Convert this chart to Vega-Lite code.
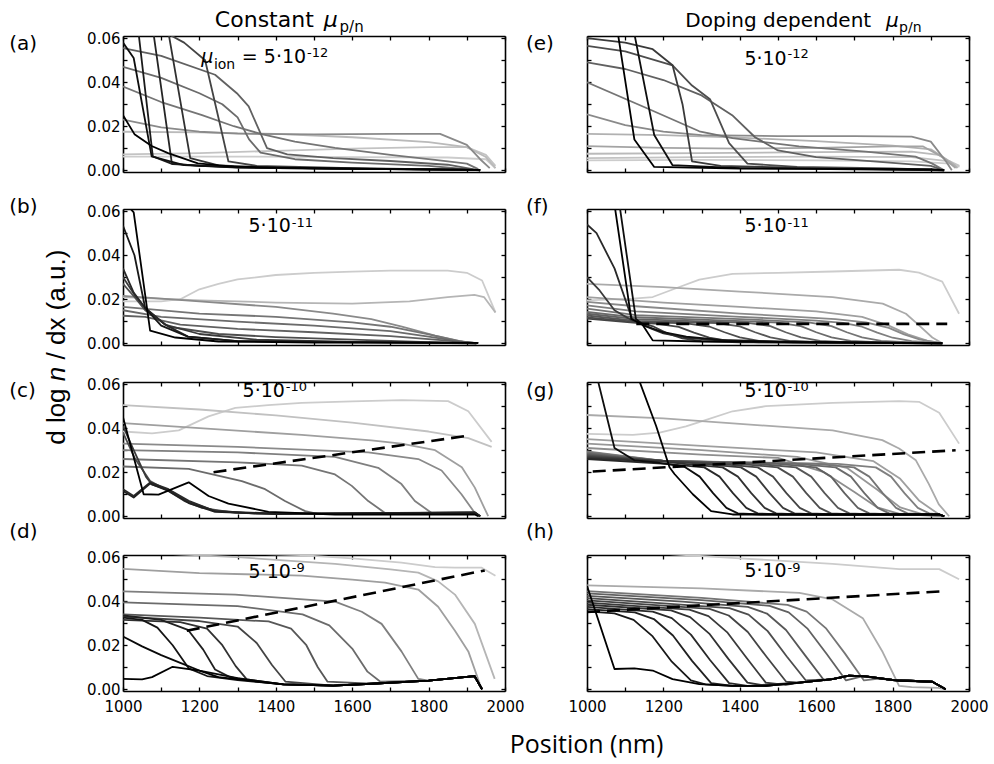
{
"$schema":"https://vega.github.io/schema/vega-lite/v6.json",
"padding":{"left":9,"top":9,"right":5,"bottom":5},
"background":"white",
"config":{"axis":{"grid":false,"tickSize":-4,"domainColor":"#000","domainWidth":1.6,"tickColor":"#000","tickWidth":1.3,"labelFont":"DejaVu Sans","labelFontSize":15,"labelColor":"#000","labelPadding":7,"labelOverlap":false,"labelFlush":false,"labelBound":false},"view":{"stroke":null}},
"columns":2,
"spacing":{"row":37,"column":82},
"bounds":"flush",
"concat":[
{"width":382,"height":136,"resolve":{"axis":{"x":"independent","y":"independent"}},
"layer":[
{"data":{"values":[
{"t":10,"x":1000,"y":0.0062},{"t":10,"x":1300,"y":0.0062},{"t":10,"x":1600,"y":0.006},{"t":10,"x":1850,"y":0.0058},{"t":10,"x":1950,"y":0.005},{"t":10,"x":1975,"y":0.001},
{"t":9.6,"x":1000,"y":0.0072},{"t":9.6,"x":1200,"y":0.0078},{"t":9.6,"x":1400,"y":0.0088},{"t":9.6,"x":1600,"y":0.0098},{"t":9.6,"x":1800,"y":0.0105},{"t":9.6,"x":1900,"y":0.0105},{"t":9.6,"x":1950,"y":0.007},{"t":9.6,"x":1975,"y":0.002},
{"t":9.2,"x":1000,"y":0.0175},{"t":9.2,"x":1200,"y":0.0172},{"t":9.2,"x":1400,"y":0.0165},{"t":9.2,"x":1600,"y":0.015},{"t":9.2,"x":1800,"y":0.0128},{"t":9.2,"x":1900,"y":0.0105},{"t":9.2,"x":1950,"y":0.006},{"t":9.2,"x":1975,"y":0.001},
{"t":7,"x":1000,"y":0.023},{"t":7,"x":1100,"y":0.0195},{"t":7,"x":1200,"y":0.0175},{"t":7,"x":1300,"y":0.0166},{"t":7,"x":1500,"y":0.0163},{"t":7,"x":1700,"y":0.0165},{"t":7,"x":1830,"y":0.0165},{"t":7,"x":1900,"y":0.0115},{"t":7,"x":1935,"y":0.005},{"t":7,"x":1960,"y":0.001},
{"t":6,"x":1000,"y":0.038},{"t":6,"x":1100,"y":0.031},{"t":6,"x":1207,"y":0.025},{"t":6,"x":1290,"y":0.02},{"t":6,"x":1363,"y":0.0164},{"t":6,"x":1450,"y":0.013},{"t":6,"x":1555,"y":0.0102},{"t":6,"x":1700,"y":0.007},{"t":6,"x":1817,"y":0.0047},{"t":6,"x":1900,"y":0.003},{"t":6,"x":1930,"y":0.0005},
{"t":5.5,"x":1000,"y":0.047},{"t":5.5,"x":1100,"y":0.042},{"t":5.5,"x":1200,"y":0.035},{"t":5.5,"x":1260,"y":0.03},{"t":5.5,"x":1300,"y":0.024},{"t":5.5,"x":1330,"y":0.014},{"t":5.5,"x":1360,"y":0.008},{"t":5.5,"x":1450,"y":0.005},{"t":5.5,"x":1600,"y":0.0035},{"t":5.5,"x":1800,"y":0.002},{"t":5.5,"x":1930,"y":0},
{"t":5,"x":1000,"y":0.0555},{"t":5,"x":1100,"y":0.052},{"t":5,"x":1241,"y":0.0434},{"t":5,"x":1298,"y":0.035},{"t":5,"x":1329,"y":0.029},{"t":5,"x":1377,"y":0.01},{"t":5,"x":1430,"y":0.0072},{"t":5,"x":1550,"y":0.0055},{"t":5,"x":1700,"y":0.0042},{"t":5,"x":1850,"y":0.0025},{"t":5,"x":1930,"y":0},
{"t":3.5,"x":1000,"y":0.07},{"t":3.5,"x":1112,"y":0.0625},{"t":3.5,"x":1160,"y":0.058},{"t":3.5,"x":1215,"y":0.05},{"t":3.5,"x":1255,"y":0.02},{"t":3.5,"x":1276,"y":0.004},{"t":3.5,"x":1350,"y":0.002},{"t":3.5,"x":1600,"y":0.001},{"t":3.5,"x":1925,"y":0.0002},{"t":3.5,"x":1935,"y":0},
{"t":2.5,"x":1000,"y":0.07},{"t":2.5,"x":1120,"y":0.0615},{"t":2.5,"x":1176,"y":0.0055},{"t":2.5,"x":1250,"y":0.0022},{"t":2.5,"x":1400,"y":0.0012},{"t":2.5,"x":1925,"y":0.0002},{"t":2.5,"x":1935,"y":0},
{"t":1.8,"x":1000,"y":0.07},{"t":1.8,"x":1080,"y":0.062},{"t":1.8,"x":1128,"y":0.003},{"t":1.8,"x":1200,"y":0.002},{"t":1.8,"x":1400,"y":0.001},{"t":1.8,"x":1925,"y":0.0002},{"t":1.8,"x":1935,"y":0},
{"t":1.2,"x":1000,"y":0.07},{"t":1.2,"x":1041,"y":0.062},{"t":1.2,"x":1078,"y":0.0063},{"t":1.2,"x":1130,"y":0.0028},{"t":1.2,"x":1300,"y":0.0013},{"t":1.2,"x":1925,"y":0.0002},{"t":1.2,"x":1935,"y":0},
{"t":0.5,"x":1000,"y":0.058},{"t":0.5,"x":1028,"y":0.051},{"t":0.5,"x":1075,"y":0.0063},{"t":0.5,"x":1160,"y":0.0023},{"t":0.5,"x":1300,"y":0.0012},{"t":0.5,"x":1600,"y":0.0006},{"t":0.5,"x":1925,"y":0.0002},{"t":0.5,"x":1935,"y":0},
{"t":0,"x":1000,"y":0.025},{"t":0,"x":1030,"y":0.0164},{"t":0,"x":1075,"y":0.011},{"t":0,"x":1118,"y":0.0078},{"t":0,"x":1196,"y":0.0031},{"t":0,"x":1290,"y":0.0016},{"t":0,"x":1500,"y":0.0009},{"t":0,"x":1700,"y":0.0005},{"t":0,"x":1925,"y":0.0002},{"t":0,"x":1935,"y":0}
]},
"mark":{"type":"line","clip":true,"strokeWidth":1.8,"strokeJoin":"round"},
"encoding":{"x":{"field":"x","type":"quantitative","scale":{"domain":[1000,2000],"nice":false,"zero":false},"axis":{"orient":"bottom","values":[1000,1100,1200,1300,1400,1500,1600,1700,1800,1900,2000],"labels":false,"title":null}},
"y":{"field":"y","type":"quantitative","scale":{"domain":[-0.0008,0.061],"nice":false,"zero":false},"axis":{"orient":"left","values":[0,0.01,0.02,0.03,0.04,0.05,0.06],"format":".2f","labelExpr":"round(datum.value*100) % 2 == 0 ? datum.label : ''","title":null}},
"color":{"field":"t","type":"quantitative","scale":{"domain":[0,10],"range":["#000000","#cccccc"]},"legend":null},
"detail":{"field":"t","type":"nominal"}}},
{"data":{"values":[{}]},"mark":{"type":"point","opacity":0},"encoding":{"x":{"datum":1500,"type":"quantitative","scale":{"domain":[1000,2000],"nice":false,"zero":false},"axis":{"orient":"top","values":[1000,1100,1200,1300,1400,1500,1600,1700,1800,1900,2000],"labels":false,"title":null}},"y":{"datum":0.03,"type":"quantitative","scale":{"domain":[-0.0008,0.061],"nice":false,"zero":false},"axis":{"orient":"right","values":[0,0.01,0.02,0.03,0.04,0.05,0.06],"labels":false,"title":null}}}},
{"data":{"values":[{}]},"mark":{"type":"text","align":"left","baseline":"middle","font":"DejaVu Sans","fontSize":20,"color":"#000"},"encoding":{"x":{"datum":702,"type":"quantitative","scale":{"domain":[1000,2000],"nice":false,"zero":false},"axis":null},"y":{"datum":0.0575,"type":"quantitative","scale":{"domain":[-0.0008,0.061],"nice":false,"zero":false},"axis":null},"text":{"value":"(a)"}}},
{"data":{"values":[{}]},"mark":{"type":"text","align":"left","baseline":"alphabetic","font":"DejaVu Sans","fontSize":22,"color":"#000"},"encoding":{"x":{"datum":1240.5,"type":"quantitative","scale":{"domain":[1000,2000],"nice":false,"zero":false},"axis":null},"y":{"datum":0.06495,"type":"quantitative","scale":{"domain":[-0.0008,0.061],"nice":false,"zero":false},"axis":null},"text":{"value":"Constant"}}},
{"data":{"values":[{}]},"mark":{"type":"text","align":"left","baseline":"alphabetic","font":"DejaVu Sans","fontStyle":"italic","fontSize":22,"color":"#000"},"encoding":{"x":{"datum":1525.5,"type":"quantitative","scale":{"domain":[1000,2000],"nice":false,"zero":false},"axis":null},"y":{"datum":0.06495,"type":"quantitative","scale":{"domain":[-0.0008,0.061],"nice":false,"zero":false},"axis":null},"text":{"value":"μ"}}},
{"data":{"values":[{}]},"mark":{"type":"text","align":"left","baseline":"alphabetic","font":"DejaVu Sans","fontSize":15,"color":"#000"},"encoding":{"x":{"datum":1567,"type":"quantitative","scale":{"domain":[1000,2000],"nice":false,"zero":false},"axis":null},"y":{"datum":0.0628,"type":"quantitative","scale":{"domain":[-0.0008,0.061],"nice":false,"zero":false},"axis":null},"text":{"value":"p/n"}}},
{"data":{"values":[{}]},"mark":{"type":"text","align":"left","baseline":"alphabetic","font":"DejaVu Sans","fontStyle":"italic","fontSize":19,"color":"#000"},"encoding":{"x":{"datum":1204.7,"type":"quantitative","scale":{"domain":[1000,2000],"nice":false,"zero":false},"axis":null},"y":{"datum":0.04891,"type":"quantitative","scale":{"domain":[-0.0008,0.061],"nice":false,"zero":false},"axis":null},"text":{"value":"μ"}}},
{"data":{"values":[{}]},"mark":{"type":"text","align":"left","baseline":"alphabetic","font":"DejaVu Sans","fontSize":14,"color":"#000"},"encoding":{"x":{"datum":1237.9,"type":"quantitative","scale":{"domain":[1000,2000],"nice":false,"zero":false},"axis":null},"y":{"datum":0.04587,"type":"quantitative","scale":{"domain":[-0.0008,0.061],"nice":false,"zero":false},"axis":null},"text":{"value":"ion"}}},
{"data":{"values":[{}]},"mark":{"type":"text","align":"left","baseline":"alphabetic","font":"DejaVu Sans","fontSize":19,"color":"#000"},"encoding":{"x":{"datum":1311.1,"type":"quantitative","scale":{"domain":[1000,2000],"nice":false,"zero":false},"axis":null},"y":{"datum":0.04891,"type":"quantitative","scale":{"domain":[-0.0008,0.061],"nice":false,"zero":false},"axis":null},"text":{"value":"= 5·10"}}},
{"data":{"values":[{}]},"mark":{"type":"text","align":"left","baseline":"alphabetic","font":"DejaVu Sans","fontSize":13,"color":"#000"},"encoding":{"x":{"datum":1482,"type":"quantitative","scale":{"domain":[1000,2000],"nice":false,"zero":false},"axis":null},"y":{"datum":0.05132,"type":"quantitative","scale":{"domain":[-0.0008,0.061],"nice":false,"zero":false},"axis":null},"text":{"value":"-12"}}}
]},
{"width":382,"height":136,"resolve":{"axis":{"x":"independent","y":"independent"}},
"layer":[
{"data":{"values":[
{"t":10,"x":1000,"y":0.0045},{"t":10,"x":1300,"y":0.0047},{"t":10,"x":1600,"y":0.0045},{"t":10,"x":1850,"y":0.004},{"t":10,"x":1950,"y":0.003},{"t":10,"x":1975,"y":0.0015},
{"t":9.6,"x":1000,"y":0.0055},{"t":9.6,"x":1300,"y":0.006},{"t":9.6,"x":1600,"y":0.0062},{"t":9.6,"x":1850,"y":0.006},{"t":9.6,"x":1950,"y":0.004},{"t":9.6,"x":1975,"y":0.002},
{"t":9.2,"x":1000,"y":0.0075},{"t":9.2,"x":1300,"y":0.0078},{"t":9.2,"x":1600,"y":0.0082},{"t":9.2,"x":1850,"y":0.0085},{"t":9.2,"x":1920,"y":0.007},{"t":9.2,"x":1965,"y":0.002},
{"t":8.8,"x":1000,"y":0.0165},{"t":8.8,"x":1200,"y":0.016},{"t":8.8,"x":1400,"y":0.0148},{"t":8.8,"x":1600,"y":0.0132},{"t":8.8,"x":1800,"y":0.0112},{"t":8.8,"x":1900,"y":0.0095},{"t":8.8,"x":1950,"y":0.004},{"t":8.8,"x":1970,"y":0.001},
{"t":8.2,"x":1000,"y":0.011},{"t":8.2,"x":1200,"y":0.0102},{"t":8.2,"x":1400,"y":0.0098},{"t":8.2,"x":1600,"y":0.0102},{"t":8.2,"x":1800,"y":0.0108},{"t":8.2,"x":1880,"y":0.0108},{"t":8.2,"x":1930,"y":0.006},{"t":8.2,"x":1965,"y":0.001},
{"t":7,"x":1000,"y":0.0254},{"t":7,"x":1100,"y":0.0205},{"t":7,"x":1200,"y":0.0175},{"t":7,"x":1300,"y":0.016},{"t":7,"x":1500,"y":0.0155},{"t":7,"x":1700,"y":0.0155},{"t":7,"x":1850,"y":0.0153},{"t":7,"x":1900,"y":0.013},{"t":7,"x":1940,"y":0.004},{"t":7,"x":1955,"y":0},
{"t":6,"x":1000,"y":0.04},{"t":6,"x":1163,"y":0.0277},{"t":6,"x":1294,"y":0.0177},{"t":6,"x":1381,"y":0.0146},{"t":6,"x":1555,"y":0.0108},{"t":6,"x":1730,"y":0.0085},{"t":6,"x":1860,"y":0.0062},{"t":6,"x":1904,"y":0.003},{"t":6,"x":1935,"y":0},
{"t":5,"x":1000,"y":0.049},{"t":5,"x":1100,"y":0.046},{"t":5,"x":1200,"y":0.041},{"t":5,"x":1300,"y":0.034},{"t":5,"x":1380,"y":0.025},{"t":5,"x":1440,"y":0.015},{"t":5,"x":1500,"y":0.009},{"t":5,"x":1600,"y":0.006},{"t":5,"x":1750,"y":0.004},{"t":5,"x":1900,"y":0.002},{"t":5,"x":1935,"y":0},
{"t":4,"x":1000,"y":0.0565},{"t":4,"x":1100,"y":0.054},{"t":4,"x":1224,"y":0.0477},{"t":4,"x":1275,"y":0.0385},{"t":4,"x":1322,"y":0.0323},{"t":4,"x":1372,"y":0.0123},{"t":4,"x":1420,"y":0.003},{"t":4,"x":1550,"y":0.0015},{"t":4,"x":1800,"y":0.0008},{"t":4,"x":1935,"y":0},
{"t":3,"x":1000,"y":0.06},{"t":3,"x":1100,"y":0.058},{"t":3,"x":1172,"y":0.055},{"t":3,"x":1224,"y":0.0477},{"t":3,"x":1250,"y":0.03},{"t":3,"x":1275,"y":0.004},{"t":3,"x":1350,"y":0.002},{"t":3,"x":1600,"y":0.001},{"t":3,"x":1935,"y":0},
{"t":0.5,"x":1000,"y":0.07},{"t":0.5,"x":1124,"y":0.062},{"t":0.5,"x":1176,"y":0.016},{"t":0.5,"x":1224,"y":0.0023},{"t":0.5,"x":1400,"y":0.001},{"t":0.5,"x":1935,"y":0},
{"t":0,"x":1000,"y":0.07},{"t":0,"x":1081,"y":0.062},{"t":0,"x":1124,"y":0.014},{"t":0,"x":1176,"y":0.0015},{"t":0,"x":1400,"y":0.0008},{"t":0,"x":1900,"y":0.0005},{"t":0,"x":1935,"y":0}
]},
"mark":{"type":"line","clip":true,"strokeWidth":1.8,"strokeJoin":"round"},
"encoding":{"x":{"field":"x","type":"quantitative","scale":{"domain":[1000,2000],"nice":false,"zero":false},"axis":{"orient":"bottom","values":[1000,1100,1200,1300,1400,1500,1600,1700,1800,1900,2000],"labels":false,"title":null}},
"y":{"field":"y","type":"quantitative","scale":{"domain":[-0.0008,0.061],"nice":false,"zero":false},"axis":{"orient":"left","values":[0,0.01,0.02,0.03,0.04,0.05,0.06],"labels":false,"title":null}},
"color":{"field":"t","type":"quantitative","scale":{"domain":[0,10],"range":["#000000","#cccccc"]},"legend":null},
"detail":{"field":"t","type":"nominal"}}},
{"data":{"values":[{}]},"mark":{"type":"point","opacity":0},"encoding":{"x":{"datum":1500,"type":"quantitative","scale":{"domain":[1000,2000],"nice":false,"zero":false},"axis":{"orient":"top","values":[1000,1100,1200,1300,1400,1500,1600,1700,1800,1900,2000],"labels":false,"title":null}},"y":{"datum":0.03,"type":"quantitative","scale":{"domain":[-0.0008,0.061],"nice":false,"zero":false},"axis":{"orient":"right","values":[0,0.01,0.02,0.03,0.04,0.05,0.06],"labels":false,"title":null}}}},
{"data":{"values":[{}]},"mark":{"type":"text","align":"left","baseline":"middle","font":"DejaVu Sans","fontSize":20,"color":"#000"},"encoding":{"x":{"datum":840,"type":"quantitative","scale":{"domain":[1000,2000],"nice":false,"zero":false},"axis":null},"y":{"datum":0.0575,"type":"quantitative","scale":{"domain":[-0.0008,0.061],"nice":false,"zero":false},"axis":null},"text":{"value":"(e)"}}},
{"data":{"values":[{}]},"mark":{"type":"text","align":"left","baseline":"alphabetic","font":"DejaVu Sans","fontSize":20,"color":"#000"},"encoding":{"x":{"datum":1257.5,"type":"quantitative","scale":{"domain":[1000,2000],"nice":false,"zero":false},"axis":null},"y":{"datum":0.06495,"type":"quantitative","scale":{"domain":[-0.0008,0.061],"nice":false,"zero":false},"axis":null},"text":{"value":"Doping dependent"}}},
{"data":{"values":[{}]},"mark":{"type":"text","align":"left","baseline":"alphabetic","font":"DejaVu Sans","fontStyle":"italic","fontSize":20,"color":"#000"},"encoding":{"x":{"datum":1783,"type":"quantitative","scale":{"domain":[1000,2000],"nice":false,"zero":false},"axis":null},"y":{"datum":0.06495,"type":"quantitative","scale":{"domain":[-0.0008,0.061],"nice":false,"zero":false},"axis":null},"text":{"value":"μ"}}},
{"data":{"values":[{}]},"mark":{"type":"text","align":"left","baseline":"alphabetic","font":"DejaVu Sans","fontSize":14,"color":"#000"},"encoding":{"x":{"datum":1817,"type":"quantitative","scale":{"domain":[1000,2000],"nice":false,"zero":false},"axis":null},"y":{"datum":0.0628,"type":"quantitative","scale":{"domain":[-0.0008,0.061],"nice":false,"zero":false},"axis":null},"text":{"value":"p/n"}}},
{"data":{"values":[{}]},"mark":{"type":"text","align":"left","baseline":"alphabetic","font":"DejaVu Sans","fontSize":19,"color":"#000"},"encoding":{"x":{"datum":1412,"type":"quantitative","scale":{"domain":[1000,2000],"nice":false,"zero":false},"axis":null},"y":{"datum":0.04769,"type":"quantitative","scale":{"domain":[-0.0008,0.061],"nice":false,"zero":false},"axis":null},"text":{"value":"5·10"}}},
{"data":{"values":[{}]},"mark":{"type":"text","align":"left","baseline":"alphabetic","font":"DejaVu Sans","fontSize":13,"color":"#000"},"encoding":{"x":{"datum":1525,"type":"quantitative","scale":{"domain":[1000,2000],"nice":false,"zero":false},"axis":null},"y":{"datum":0.05118,"type":"quantitative","scale":{"domain":[-0.0008,0.061],"nice":false,"zero":false},"axis":null},"text":{"value":"-12"}}}
]},
{"width":382,"height":136,"resolve":{"axis":{"x":"independent","y":"independent"}},
"layer":[
{"data":{"values":[
{"t":10,"x":1000,"y":0.019},{"t":10,"x":1100,"y":0.019},{"t":10,"x":1150,"y":0.02},{"t":10,"x":1200,"y":0.0245},{"t":10,"x":1250,"y":0.027},{"t":10,"x":1300,"y":0.029},{"t":10,"x":1400,"y":0.031},{"t":10,"x":1500,"y":0.032},{"t":10,"x":1600,"y":0.0325},{"t":10,"x":1700,"y":0.033},{"t":10,"x":1850,"y":0.033},{"t":10,"x":1900,"y":0.032},{"t":10,"x":1940,"y":0.0285},{"t":10,"x":1975,"y":0.014},
{"t":9,"x":1000,"y":0.021},{"t":9,"x":1200,"y":0.0195},{"t":9,"x":1400,"y":0.0185},{"t":9,"x":1600,"y":0.018},{"t":9,"x":1750,"y":0.019},{"t":9,"x":1850,"y":0.021},{"t":9,"x":1920,"y":0.022},{"t":9,"x":1945,"y":0.021},{"t":9,"x":1975,"y":0.014},
{"t":7,"x":1000,"y":0.0215},{"t":7,"x":1200,"y":0.019},{"t":7,"x":1400,"y":0.0165},{"t":7,"x":1550,"y":0.0135},{"t":7,"x":1650,"y":0.011},{"t":7,"x":1730,"y":0.0075},{"t":7,"x":1817,"y":0.0035},{"t":7,"x":1900,"y":0.0003},{"t":7,"x":1925,"y":0},
{"t":6,"x":1000,"y":0.0165},{"t":6,"x":1200,"y":0.0135},{"t":6,"x":1400,"y":0.012},{"t":6,"x":1600,"y":0.0095},{"t":6,"x":1700,"y":0.0075},{"t":6,"x":1800,"y":0.004},{"t":6,"x":1880,"y":0.001},{"t":6,"x":1925,"y":0},
{"t":5.5,"x":1000,"y":0.015},{"t":5.5,"x":1100,"y":0.012},{"t":5.5,"x":1300,"y":0.0098},{"t":5.5,"x":1500,"y":0.008},{"t":5.5,"x":1700,"y":0.0055},{"t":5.5,"x":1800,"y":0.003},{"t":5.5,"x":1880,"y":0.0008},{"t":5.5,"x":1925,"y":0},
{"t":5,"x":1000,"y":0.0125},{"t":5,"x":1058,"y":0.012},{"t":5,"x":1150,"y":0.0085},{"t":5,"x":1300,"y":0.0065},{"t":5,"x":1500,"y":0.005},{"t":5,"x":1700,"y":0.0032},{"t":5,"x":1850,"y":0.0012},{"t":5,"x":1925,"y":0},
{"t":4,"x":1000,"y":0.027},{"t":4,"x":1030,"y":0.021},{"t":4,"x":1058,"y":0.015},{"t":4,"x":1120,"y":0.0075},{"t":4,"x":1250,"y":0.0042},{"t":4,"x":1400,"y":0.0028},{"t":4,"x":1600,"y":0.0016},{"t":4,"x":1800,"y":0.0005},{"t":4,"x":1925,"y":0},
{"t":3,"x":1000,"y":0.03},{"t":3,"x":1030,"y":0.022},{"t":3,"x":1058,"y":0.016},{"t":3,"x":1110,"y":0.0085},{"t":3,"x":1200,"y":0.0042},{"t":3,"x":1350,"y":0.0016},{"t":3,"x":1600,"y":0.0006},{"t":3,"x":1925,"y":0},
{"t":2,"x":1000,"y":0.034},{"t":2,"x":1028,"y":0.023},{"t":2,"x":1058,"y":0.016},{"t":2,"x":1110,"y":0.0085},{"t":2,"x":1170,"y":0.003},{"t":2,"x":1300,"y":0.0009},{"t":2,"x":1925,"y":0},
{"t":1,"x":1000,"y":0.0534},{"t":1,"x":1030,"y":0.04},{"t":1,"x":1058,"y":0.016},{"t":1,"x":1100,"y":0.008},{"t":1,"x":1170,"y":0.003},{"t":1,"x":1300,"y":0.001},{"t":1,"x":1925,"y":0.0002},{"t":1,"x":1930,"y":0},
{"t":0,"x":1000,"y":0.07},{"t":0,"x":1015,"y":0.062},{"t":0,"x":1028,"y":0.0595},{"t":0,"x":1071,"y":0.0057},{"t":0,"x":1137,"y":0.0026},{"t":0,"x":1250,"y":0.0008},{"t":0,"x":1500,"y":0.0003},{"t":0,"x":1925,"y":0.0002},{"t":0,"x":1930,"y":0}
]},
"mark":{"type":"line","clip":true,"strokeWidth":1.8,"strokeJoin":"round"},
"encoding":{"x":{"field":"x","type":"quantitative","scale":{"domain":[1000,2000],"nice":false,"zero":false},"axis":{"orient":"bottom","values":[1000,1100,1200,1300,1400,1500,1600,1700,1800,1900,2000],"labels":false,"title":null}},
"y":{"field":"y","type":"quantitative","scale":{"domain":[-0.0008,0.061],"nice":false,"zero":false},"axis":{"orient":"left","values":[0,0.01,0.02,0.03,0.04,0.05,0.06],"format":".2f","labelExpr":"round(datum.value*100) % 2 == 0 ? datum.label : ''","title":null}},
"color":{"field":"t","type":"quantitative","scale":{"domain":[0,10],"range":["#000000","#cccccc"]},"legend":null},
"detail":{"field":"t","type":"nominal"}}},
{"data":{"values":[{}]},"mark":{"type":"point","opacity":0},"encoding":{"x":{"datum":1500,"type":"quantitative","scale":{"domain":[1000,2000],"nice":false,"zero":false},"axis":{"orient":"top","values":[1000,1100,1200,1300,1400,1500,1600,1700,1800,1900,2000],"labels":false,"title":null}},"y":{"datum":0.03,"type":"quantitative","scale":{"domain":[-0.0008,0.061],"nice":false,"zero":false},"axis":{"orient":"right","values":[0,0.01,0.02,0.03,0.04,0.05,0.06],"labels":false,"title":null}}}},
{"data":{"values":[{}]},"mark":{"type":"text","align":"left","baseline":"middle","font":"DejaVu Sans","fontSize":20,"color":"#000"},"encoding":{"x":{"datum":702,"type":"quantitative","scale":{"domain":[1000,2000],"nice":false,"zero":false},"axis":null},"y":{"datum":0.062,"type":"quantitative","scale":{"domain":[-0.0008,0.061],"nice":false,"zero":false},"axis":null},"text":{"value":"(b)"}}},
{"data":{"values":[{}]},"mark":{"type":"text","align":"left","baseline":"alphabetic","font":"DejaVu Sans","fontSize":19,"color":"#000"},"encoding":{"x":{"datum":1328.6,"type":"quantitative","scale":{"domain":[1000,2000],"nice":false,"zero":false},"axis":null},"y":{"datum":0.05037,"type":"quantitative","scale":{"domain":[-0.0008,0.061],"nice":false,"zero":false},"axis":null},"text":{"value":"5·10"}}},
{"data":{"values":[{}]},"mark":{"type":"text","align":"left","baseline":"alphabetic","font":"DejaVu Sans","fontSize":13,"color":"#000"},"encoding":{"x":{"datum":1441.8,"type":"quantitative","scale":{"domain":[1000,2000],"nice":false,"zero":false},"axis":null},"y":{"datum":0.05264,"type":"quantitative","scale":{"domain":[-0.0008,0.061],"nice":false,"zero":false},"axis":null},"text":{"value":"-11"}}}
]},
{"width":382,"height":136,"resolve":{"axis":{"x":"independent","y":"independent"}},
"layer":[
{"data":{"values":[
{"t":10,"x":1000,"y":0.0195},{"t":10,"x":1120,"y":0.0203},{"t":10,"x":1172,"y":0.021},{"t":10,"x":1233,"y":0.025},{"t":10,"x":1294,"y":0.0289},{"t":10,"x":1381,"y":0.0315},{"t":10,"x":1500,"y":0.032},{"t":10,"x":1643,"y":0.0326},{"t":10,"x":1817,"y":0.0334},{"t":10,"x":1869,"y":0.0321},{"t":10,"x":1930,"y":0.028},{"t":10,"x":1974,"y":0.0134},
{"t":8.5,"x":1000,"y":0.027},{"t":8.5,"x":1200,"y":0.0255},{"t":8.5,"x":1400,"y":0.0235},{"t":8.5,"x":1643,"y":0.021},{"t":8.5,"x":1774,"y":0.018},{"t":8.5,"x":1835,"y":0.0134},{"t":8.5,"x":1870,"y":0.008},{"t":8.5,"x":1904,"y":0.0026},{"t":8.5,"x":1930,"y":0},
{"t":8,"x":1000,"y":0.021},{"t":8,"x":1200,"y":0.0185},{"t":8,"x":1400,"y":0.0165},{"t":8,"x":1600,"y":0.0145},{"t":8,"x":1720,"y":0.012},{"t":8,"x":1790,"y":0.008},{"t":8,"x":1840,"y":0.004},{"t":8,"x":1890,"y":0.0012},{"t":8,"x":1930,"y":0},
{"t":7,"x":1000,"y":0.0188},{"t":7,"x":1128,"y":0.0168},{"t":7,"x":1400,"y":0.0135},{"t":7,"x":1650,"y":0.011},{"t":7,"x":1730,"y":0.0095},{"t":7,"x":1790,"y":0.007},{"t":7,"x":1830,"y":0.004},{"t":7,"x":1870,"y":0.0018},{"t":7,"x":1910,"y":0.0005},{"t":7,"x":1930,"y":0},
{"t":6.5,"x":1000,"y":0.0172},{"t":6.5,"x":1128,"y":0.0145},{"t":6.5,"x":1400,"y":0.012},{"t":6.5,"x":1600,"y":0.0103},{"t":6.5,"x":1670,"y":0.0093},{"t":6.5,"x":1720,"y":0.0075},{"t":6.5,"x":1760,"y":0.0048},{"t":6.5,"x":1800,"y":0.0025},{"t":6.5,"x":1850,"y":0.001},{"t":6.5,"x":1930,"y":0},
{"t":6,"x":1000,"y":0.0157},{"t":6,"x":1128,"y":0.0128},{"t":6,"x":1400,"y":0.011},{"t":6,"x":1580,"y":0.0095},{"t":6,"x":1640,"y":0.0078},{"t":6,"x":1680,"y":0.005},{"t":6,"x":1720,"y":0.0027},{"t":6,"x":1770,"y":0.0011},{"t":6,"x":1850,"y":0.0004},{"t":6,"x":1930,"y":0},
{"t":5.5,"x":1000,"y":0.0142},{"t":5.5,"x":1128,"y":0.0118},{"t":5.5,"x":1350,"y":0.0104},{"t":5.5,"x":1500,"y":0.0094},{"t":5.5,"x":1560,"y":0.0078},{"t":5.5,"x":1600,"y":0.005},{"t":5.5,"x":1640,"y":0.0027},{"t":5.5,"x":1690,"y":0.0011},{"t":5.5,"x":1770,"y":0.0004},{"t":5.5,"x":1930,"y":0},
{"t":5,"x":1000,"y":0.0134},{"t":5,"x":1128,"y":0.011},{"t":5,"x":1300,"y":0.0099},{"t":5,"x":1420,"y":0.0093},{"t":5,"x":1480,"y":0.0078},{"t":5,"x":1520,"y":0.005},{"t":5,"x":1560,"y":0.0027},{"t":5,"x":1610,"y":0.0011},{"t":5,"x":1690,"y":0.0004},{"t":5,"x":1930,"y":0},
{"t":4.5,"x":1000,"y":0.0126},{"t":4.5,"x":1128,"y":0.0102},{"t":4.5,"x":1340,"y":0.0092},{"t":4.5,"x":1400,"y":0.0077},{"t":4.5,"x":1440,"y":0.005},{"t":4.5,"x":1480,"y":0.0027},{"t":4.5,"x":1530,"y":0.0011},{"t":4.5,"x":1610,"y":0.0004},{"t":4.5,"x":1930,"y":0},
{"t":4,"x":1000,"y":0.0118},{"t":4,"x":1128,"y":0.0097},{"t":4,"x":1260,"y":0.009},{"t":4,"x":1320,"y":0.0076},{"t":4,"x":1360,"y":0.005},{"t":4,"x":1400,"y":0.0027},{"t":4,"x":1450,"y":0.0011},{"t":4,"x":1530,"y":0.0004},{"t":4,"x":1930,"y":0},
{"t":3.5,"x":1000,"y":0.0112},{"t":3.5,"x":1128,"y":0.0093},{"t":3.5,"x":1180,"y":0.0089},{"t":3.5,"x":1240,"y":0.0074},{"t":3.5,"x":1280,"y":0.0048},{"t":3.5,"x":1320,"y":0.0026},{"t":3.5,"x":1370,"y":0.0011},{"t":3.5,"x":1450,"y":0.0004},{"t":3.5,"x":1930,"y":0},
{"t":3,"x":1000,"y":0.03},{"t":3,"x":1033,"y":0.024},{"t":3,"x":1072,"y":0.015},{"t":3,"x":1118,"y":0.0103},{"t":3,"x":1150,"y":0.0088},{"t":3,"x":1175,"y":0.0075},{"t":3,"x":1210,"y":0.0045},{"t":3,"x":1250,"y":0.0022},{"t":3,"x":1300,"y":0.001},{"t":3,"x":1400,"y":0.0004},{"t":3,"x":1930,"y":0},
{"t":2,"x":1000,"y":0.054},{"t":2,"x":1025,"y":0.05},{"t":2,"x":1072,"y":0.034},{"t":2,"x":1118,"y":0.011},{"t":2,"x":1140,"y":0.0088},{"t":2,"x":1170,"y":0.0065},{"t":2,"x":1200,"y":0.0045},{"t":2,"x":1260,"y":0.0025},{"t":2,"x":1350,"y":0.0012},{"t":2,"x":1500,"y":0.0005},{"t":2,"x":1930,"y":0},
{"t":0.5,"x":1000,"y":0.08},{"t":0.5,"x":1085,"y":0.063},{"t":0.5,"x":1128,"y":0.011},{"t":0.5,"x":1150,"y":0.008},{"t":0.5,"x":1200,"y":0.005},{"t":0.5,"x":1260,"y":0.003},{"t":0.5,"x":1350,"y":0.0015},{"t":0.5,"x":1500,"y":0.0008},{"t":0.5,"x":1930,"y":0},
{"t":0,"x":1000,"y":0.08},{"t":0,"x":1072,"y":0.063},{"t":0,"x":1116,"y":0.011},{"t":0,"x":1145,"y":0.0085},{"t":0,"x":1172,"y":0.0013},{"t":0,"x":1300,"y":0.0008},{"t":0,"x":1600,"y":0.0004},{"t":0,"x":1930,"y":0}
]},
"mark":{"type":"line","clip":true,"strokeWidth":1.8,"strokeJoin":"round"},
"encoding":{"x":{"field":"x","type":"quantitative","scale":{"domain":[1000,2000],"nice":false,"zero":false},"axis":{"orient":"bottom","values":[1000,1100,1200,1300,1400,1500,1600,1700,1800,1900,2000],"labels":false,"title":null}},
"y":{"field":"y","type":"quantitative","scale":{"domain":[-0.0008,0.061],"nice":false,"zero":false},"axis":{"orient":"left","values":[0,0.01,0.02,0.03,0.04,0.05,0.06],"labels":false,"title":null}},
"color":{"field":"t","type":"quantitative","scale":{"domain":[0,10],"range":["#000000","#cccccc"]},"legend":null},
"detail":{"field":"t","type":"nominal"}}},
{"data":{"values":[{"x":1129,"y":0.0088},{"x":1943,"y":0.0088}]},"mark":{"type":"line","clip":true,"color":"#000","strokeWidth":2.6,"strokeDash":[13,7]},"encoding":{"x":{"field":"x","type":"quantitative","scale":{"domain":[1000,2000],"nice":false,"zero":false},"axis":null},"y":{"field":"y","type":"quantitative","scale":{"domain":[-0.0008,0.061],"nice":false,"zero":false},"axis":null}}},
{"data":{"values":[{}]},"mark":{"type":"point","opacity":0},"encoding":{"x":{"datum":1500,"type":"quantitative","scale":{"domain":[1000,2000],"nice":false,"zero":false},"axis":{"orient":"top","values":[1000,1100,1200,1300,1400,1500,1600,1700,1800,1900,2000],"labels":false,"title":null}},"y":{"datum":0.03,"type":"quantitative","scale":{"domain":[-0.0008,0.061],"nice":false,"zero":false},"axis":{"orient":"right","values":[0,0.01,0.02,0.03,0.04,0.05,0.06],"labels":false,"title":null}}}},
{"data":{"values":[{}]},"mark":{"type":"text","align":"left","baseline":"middle","font":"DejaVu Sans","fontSize":20,"color":"#000"},"encoding":{"x":{"datum":840,"type":"quantitative","scale":{"domain":[1000,2000],"nice":false,"zero":false},"axis":null},"y":{"datum":0.062,"type":"quantitative","scale":{"domain":[-0.0008,0.061],"nice":false,"zero":false},"axis":null},"text":{"value":"(f)"}}},
{"data":{"values":[{}]},"mark":{"type":"text","align":"left","baseline":"alphabetic","font":"DejaVu Sans","fontSize":19,"color":"#000"},"encoding":{"x":{"datum":1412,"type":"quantitative","scale":{"domain":[1000,2000],"nice":false,"zero":false},"axis":null},"y":{"datum":0.05037,"type":"quantitative","scale":{"domain":[-0.0008,0.061],"nice":false,"zero":false},"axis":null},"text":{"value":"5·10"}}},
{"data":{"values":[{}]},"mark":{"type":"text","align":"left","baseline":"alphabetic","font":"DejaVu Sans","fontSize":13,"color":"#000"},"encoding":{"x":{"datum":1525,"type":"quantitative","scale":{"domain":[1000,2000],"nice":false,"zero":false},"axis":null},"y":{"datum":0.05264,"type":"quantitative","scale":{"domain":[-0.0008,0.061],"nice":false,"zero":false},"axis":null},"text":{"value":"-11"}}}
]},
{"width":382,"height":136,"resolve":{"axis":{"x":"independent","y":"independent"}},
"layer":[
{"data":{"values":[
{"t":10,"x":1000,"y":0.0385},{"t":10,"x":1076,"y":0.0377},{"t":10,"x":1146,"y":0.039},{"t":10,"x":1224,"y":0.0454},{"t":10,"x":1294,"y":0.0492},{"t":10,"x":1380,"y":0.0505},{"t":10,"x":1468,"y":0.0515},{"t":10,"x":1600,"y":0.0522},{"t":10,"x":1730,"y":0.0528},{"t":10,"x":1851,"y":0.0523},{"t":10,"x":1904,"y":0.0477},{"t":10,"x":1965,"y":0.0338},
{"t":9.5,"x":1000,"y":0.0505},{"t":9.5,"x":1200,"y":0.0485},{"t":9.5,"x":1400,"y":0.0458},{"t":9.5,"x":1600,"y":0.0425},{"t":9.5,"x":1800,"y":0.0385},{"t":9.5,"x":1904,"y":0.0355},{"t":9.5,"x":1965,"y":0.0315},
{"t":8,"x":1000,"y":0.0423},{"t":8,"x":1200,"y":0.04},{"t":8,"x":1468,"y":0.037},{"t":8,"x":1650,"y":0.0345},{"t":8,"x":1729,"y":0.033},{"t":8,"x":1817,"y":0.03},{"t":8,"x":1887,"y":0.0223},{"t":8,"x":1921,"y":0.013},{"t":8,"x":1956,"y":0},
{"t":7,"x":1000,"y":0.033},{"t":7,"x":1300,"y":0.0315},{"t":7,"x":1642,"y":0.029},{"t":7,"x":1773,"y":0.026},{"t":7,"x":1834,"y":0.0208},{"t":7,"x":1886,"y":0.01},{"t":7,"x":1921,"y":0.0015},{"t":7,"x":1935,"y":0},
{"t":6.5,"x":1000,"y":0.03},{"t":6.5,"x":1300,"y":0.029},{"t":6.5,"x":1555,"y":0.027},{"t":6.5,"x":1668,"y":0.022},{"t":6.5,"x":1729,"y":0.0146},{"t":6.5,"x":1764,"y":0.0069},{"t":6.5,"x":1808,"y":0.0015},{"t":6.5,"x":1921,"y":0.0012},{"t":6.5,"x":1935,"y":0},
{"t":6,"x":1000,"y":0.026},{"t":6,"x":1300,"y":0.0245},{"t":6,"x":1468,"y":0.023},{"t":6,"x":1555,"y":0.019},{"t":6,"x":1599,"y":0.0138},{"t":6,"x":1642,"y":0.0069},{"t":6,"x":1686,"y":0.0015},{"t":6,"x":1921,"y":0.0012},{"t":6,"x":1935,"y":0},
{"t":5.5,"x":1000,"y":0.0226},{"t":5.5,"x":1172,"y":0.0215},{"t":5.5,"x":1311,"y":0.016},{"t":5.5,"x":1372,"y":0.0123},{"t":5.5,"x":1424,"y":0.0069},{"t":5.5,"x":1477,"y":0.0023},{"t":5.5,"x":1512,"y":0.001},{"t":5.5,"x":1921,"y":0.0012},{"t":5.5,"x":1935,"y":0},
{"t":4,"x":1000,"y":0.038},{"t":4,"x":1032,"y":0.026},{"t":4,"x":1071,"y":0.016},{"t":4,"x":1119,"y":0.0115},{"t":4,"x":1160,"y":0.007},{"t":4,"x":1207,"y":0.0038},{"t":4,"x":1294,"y":0.0015},{"t":4,"x":1500,"y":0.001},{"t":4,"x":1921,"y":0.0015},{"t":4,"x":1935,"y":0},
{"t":3,"x":1000,"y":0.041},{"t":3,"x":1028,"y":0.03},{"t":3,"x":1060,"y":0.018},{"t":3,"x":1075,"y":0.0145},{"t":3,"x":1119,"y":0.012},{"t":3,"x":1172,"y":0.0065},{"t":3,"x":1241,"y":0.0025},{"t":3,"x":1350,"y":0.0012},{"t":3,"x":1921,"y":0.0016},{"t":3,"x":1935,"y":0},
{"t":2,"x":1000,"y":0.0123},{"t":2,"x":1028,"y":0.0092},{"t":2,"x":1071,"y":0.0154},{"t":2,"x":1119,"y":0.0123},{"t":2,"x":1172,"y":0.007},{"t":2,"x":1241,"y":0.0023},{"t":2,"x":1400,"y":0.0012},{"t":2,"x":1921,"y":0.0018},{"t":2,"x":1935,"y":0},
{"t":1.5,"x":1000,"y":0.0115},{"t":1.5,"x":1028,"y":0.0085},{"t":1.5,"x":1071,"y":0.0148},{"t":1.5,"x":1119,"y":0.0115},{"t":1.5,"x":1172,"y":0.006},{"t":1.5,"x":1241,"y":0.002},{"t":1.5,"x":1400,"y":0.001},{"t":1.5,"x":1921,"y":0.0017},{"t":1.5,"x":1935,"y":0},
{"t":0,"x":1000,"y":0.045},{"t":0,"x":1054,"y":0.01},{"t":0,"x":1093,"y":0.0098},{"t":0,"x":1172,"y":0.0154},{"t":0,"x":1224,"y":0.0092},{"t":0,"x":1276,"y":0.0057},{"t":0,"x":1381,"y":0.002},{"t":0,"x":1555,"y":0.0008},{"t":0,"x":1921,"y":0.0008},{"t":0,"x":1930,"y":0}
]},
"mark":{"type":"line","clip":true,"strokeWidth":1.8,"strokeJoin":"round"},
"encoding":{"x":{"field":"x","type":"quantitative","scale":{"domain":[1000,2000],"nice":false,"zero":false},"axis":{"orient":"bottom","values":[1000,1100,1200,1300,1400,1500,1600,1700,1800,1900,2000],"labels":false,"title":null}},
"y":{"field":"y","type":"quantitative","scale":{"domain":[-0.0008,0.061],"nice":false,"zero":false},"axis":{"orient":"left","values":[0,0.01,0.02,0.03,0.04,0.05,0.06],"format":".2f","labelExpr":"round(datum.value*100) % 2 == 0 ? datum.label : ''","title":null}},
"color":{"field":"t","type":"quantitative","scale":{"domain":[0,10],"range":["#000000","#cccccc"]},"legend":null},
"detail":{"field":"t","type":"nominal"}}},
{"data":{"values":[{"x":1237,"y":0.02},{"x":1899,"y":0.0365}]},"mark":{"type":"line","clip":true,"color":"#000","strokeWidth":2.6,"strokeDash":[13,7]},"encoding":{"x":{"field":"x","type":"quantitative","scale":{"domain":[1000,2000],"nice":false,"zero":false},"axis":null},"y":{"field":"y","type":"quantitative","scale":{"domain":[-0.0008,0.061],"nice":false,"zero":false},"axis":null}}},
{"data":{"values":[{}]},"mark":{"type":"point","opacity":0},"encoding":{"x":{"datum":1500,"type":"quantitative","scale":{"domain":[1000,2000],"nice":false,"zero":false},"axis":{"orient":"top","values":[1000,1100,1200,1300,1400,1500,1600,1700,1800,1900,2000],"labels":false,"title":null}},"y":{"datum":0.03,"type":"quantitative","scale":{"domain":[-0.0008,0.061],"nice":false,"zero":false},"axis":{"orient":"right","values":[0,0.01,0.02,0.03,0.04,0.05,0.06],"labels":false,"title":null}}}},
{"data":{"values":[{}]},"mark":{"type":"text","align":"left","baseline":"middle","font":"DejaVu Sans","fontSize":20,"color":"#000"},"encoding":{"x":{"datum":702,"type":"quantitative","scale":{"domain":[1000,2000],"nice":false,"zero":false},"axis":null},"y":{"datum":0.057,"type":"quantitative","scale":{"domain":[-0.0008,0.061],"nice":false,"zero":false},"axis":null},"text":{"value":"(c)"}}},
{"data":{"values":[{}]},"mark":{"type":"text","align":"left","baseline":"alphabetic","font":"DejaVu Sans","fontSize":19,"color":"#000"},"encoding":{"x":{"datum":1313,"type":"quantitative","scale":{"domain":[1000,2000],"nice":false,"zero":false},"axis":null},"y":{"datum":0.05418,"type":"quantitative","scale":{"domain":[-0.0008,0.061],"nice":false,"zero":false},"axis":null},"text":{"value":"5·10"}}},
{"data":{"values":[{}]},"mark":{"type":"text","align":"left","baseline":"alphabetic","font":"DejaVu Sans","fontSize":13,"color":"#000"},"encoding":{"x":{"datum":1426,"type":"quantitative","scale":{"domain":[1000,2000],"nice":false,"zero":false},"axis":null},"y":{"datum":0.05691,"type":"quantitative","scale":{"domain":[-0.0008,0.061],"nice":false,"zero":false},"axis":null},"text":{"value":"-10"}}},
{"data":{"values":[{}]},"mark":{"type":"text","align":"left","baseline":"middle","angle":270,"font":"Liberation Sans","fontSize":26,"color":"#000"},"encoding":{"x":{"datum":827,"type":"quantitative","scale":{"domain":[1000,2000],"nice":false,"zero":false},"axis":null},"y":{"datum":0.03246,"type":"quantitative","scale":{"domain":[-0.0008,0.061],"nice":false,"zero":false},"axis":null},"text":{"value":"d log"}}},
{"data":{"values":[{}]},"mark":{"type":"text","align":"left","baseline":"middle","angle":270,"font":"Liberation Sans","fontStyle":"italic","fontSize":26,"color":"#000"},"encoding":{"x":{"datum":827,"type":"quantitative","scale":{"domain":[1000,2000],"nice":false,"zero":false},"axis":null},"y":{"datum":0.06136,"type":"quantitative","scale":{"domain":[-0.0008,0.061],"nice":false,"zero":false},"axis":null},"text":{"value":"n"}}},
{"data":{"values":[{}]},"mark":{"type":"text","align":"left","baseline":"middle","angle":270,"font":"Liberation Sans","fontSize":26,"color":"#000"},"encoding":{"x":{"datum":827,"type":"quantitative","scale":{"domain":[1000,2000],"nice":false,"zero":false},"axis":null},"y":{"datum":0.07122,"type":"quantitative","scale":{"domain":[-0.0008,0.061],"nice":false,"zero":false},"axis":null},"text":{"value":"/ dx (a.u.)"}}}
]},
{"width":382,"height":136,"resolve":{"axis":{"x":"independent","y":"independent"}},
"layer":[
{"data":{"values":[
{"t":10,"x":1000,"y":0.0374},{"t":10,"x":1120,"y":0.037},{"t":10,"x":1190,"y":0.038},{"t":10,"x":1259,"y":0.0408},{"t":10,"x":1312,"y":0.0438},{"t":10,"x":1381,"y":0.0477},{"t":10,"x":1468,"y":0.05},{"t":10,"x":1643,"y":0.0515},{"t":10,"x":1817,"y":0.0523},{"t":10,"x":1869,"y":0.052},{"t":10,"x":1922,"y":0.047},{"t":10,"x":1974,"y":0.033},
{"t":8.5,"x":1000,"y":0.046},{"t":8.5,"x":1200,"y":0.0445},{"t":8.5,"x":1400,"y":0.042},{"t":8.5,"x":1643,"y":0.039},{"t":8.5,"x":1773,"y":0.0346},{"t":8.5,"x":1817,"y":0.0308},{"t":8.5,"x":1861,"y":0.0254},{"t":8.5,"x":1895,"y":0.0146},{"t":8.5,"x":1921,"y":0.0054},{"t":8.5,"x":1948,"y":0},
{"t":8,"x":1000,"y":0.035},{"t":8,"x":1300,"y":0.032},{"t":8,"x":1600,"y":0.029},{"t":8,"x":1750,"y":0.025},{"t":8,"x":1820,"y":0.017},{"t":8,"x":1870,"y":0.007},{"t":8,"x":1920,"y":0.001},{"t":8,"x":1935,"y":0},
{"t":7.6,"x":1000,"y":0.033},{"t":7.6,"x":1300,"y":0.03},{"t":7.6,"x":1550,"y":0.027},{"t":7.6,"x":1680,"y":0.022},{"t":7.6,"x":1760,"y":0.012},{"t":7.6,"x":1820,"y":0.004},{"t":7.6,"x":1880,"y":0.0008},{"t":7.6,"x":1935,"y":0},
{"t":7.2,"x":1000,"y":0.031},{"t":7.2,"x":1300,"y":0.028},{"t":7.2,"x":1500,"y":0.0265},{"t":7.2,"x":1620,"y":0.02},{"t":7.2,"x":1700,"y":0.011},{"t":7.2,"x":1760,"y":0.004},{"t":7.2,"x":1820,"y":0.001},{"t":7.2,"x":1935,"y":0},
{"t":6.5,"x":1000,"y":0.0295},{"t":6.5,"x":1200,"y":0.0252},{"t":6.5,"x":1656,"y":0.0238},{"t":6.5,"x":1756,"y":0.0222},{"t":6.5,"x":1796,"y":0.018},{"t":6.5,"x":1831,"y":0.0105},{"t":6.5,"x":1866,"y":0.0038},{"t":6.5,"x":1896,"y":0.0013},{"t":6.5,"x":1921,"y":0.0008},{"t":6.5,"x":1935,"y":0},
{"t":6,"x":1000,"y":0.0291},{"t":6,"x":1200,"y":0.0252},{"t":6,"x":1599,"y":0.0238},{"t":6,"x":1699,"y":0.0222},{"t":6,"x":1739,"y":0.018},{"t":6,"x":1774,"y":0.0105},{"t":6,"x":1809,"y":0.0038},{"t":6,"x":1839,"y":0.0013},{"t":6,"x":1899,"y":0.0008},{"t":6,"x":1921,"y":0.0008},{"t":6,"x":1935,"y":0},
{"t":5.5,"x":1000,"y":0.0287},{"t":5.5,"x":1200,"y":0.0252},{"t":5.5,"x":1551,"y":0.0238},{"t":5.5,"x":1651,"y":0.0222},{"t":5.5,"x":1691,"y":0.018},{"t":5.5,"x":1726,"y":0.0105},{"t":5.5,"x":1761,"y":0.0038},{"t":5.5,"x":1791,"y":0.0013},{"t":5.5,"x":1851,"y":0.0008},{"t":5.5,"x":1921,"y":0.0008},{"t":5.5,"x":1935,"y":0},
{"t":5,"x":1000,"y":0.0283},{"t":5,"x":1200,"y":0.0252},{"t":5,"x":1499,"y":0.0238},{"t":5,"x":1599,"y":0.0222},{"t":5,"x":1639,"y":0.018},{"t":5,"x":1674,"y":0.0105},{"t":5,"x":1709,"y":0.0038},{"t":5,"x":1739,"y":0.0013},{"t":5,"x":1799,"y":0.0008},{"t":5,"x":1921,"y":0.0008},{"t":5,"x":1935,"y":0},
{"t":4.5,"x":1000,"y":0.0279},{"t":4.5,"x":1200,"y":0.0252},{"t":4.5,"x":1447,"y":0.0238},{"t":4.5,"x":1547,"y":0.0222},{"t":4.5,"x":1587,"y":0.018},{"t":4.5,"x":1622,"y":0.0105},{"t":4.5,"x":1657,"y":0.0038},{"t":4.5,"x":1687,"y":0.0013},{"t":4.5,"x":1747,"y":0.0008},{"t":4.5,"x":1921,"y":0.0008},{"t":4.5,"x":1935,"y":0},
{"t":4,"x":1000,"y":0.0275},{"t":4,"x":1200,"y":0.0252},{"t":4,"x":1399,"y":0.0238},{"t":4,"x":1499,"y":0.0222},{"t":4,"x":1539,"y":0.018},{"t":4,"x":1574,"y":0.0105},{"t":4,"x":1609,"y":0.0038},{"t":4,"x":1639,"y":0.0013},{"t":4,"x":1699,"y":0.0008},{"t":4,"x":1921,"y":0.0008},{"t":4,"x":1935,"y":0},
{"t":3.5,"x":1000,"y":0.0271},{"t":3.5,"x":1200,"y":0.0252},{"t":3.5,"x":1347,"y":0.0238},{"t":3.5,"x":1447,"y":0.0222},{"t":3.5,"x":1487,"y":0.018},{"t":3.5,"x":1522,"y":0.0105},{"t":3.5,"x":1557,"y":0.0038},{"t":3.5,"x":1587,"y":0.0013},{"t":3.5,"x":1647,"y":0.0008},{"t":3.5,"x":1921,"y":0.0008},{"t":3.5,"x":1935,"y":0},
{"t":3,"x":1000,"y":0.0267},{"t":3,"x":1200,"y":0.0252},{"t":3,"x":1303,"y":0.0238},{"t":3,"x":1403,"y":0.0222},{"t":3,"x":1443,"y":0.018},{"t":3,"x":1478,"y":0.0105},{"t":3,"x":1513,"y":0.0038},{"t":3,"x":1543,"y":0.0013},{"t":3,"x":1603,"y":0.0008},{"t":3,"x":1921,"y":0.0008},{"t":3,"x":1935,"y":0},
{"t":2.5,"x":1000,"y":0.0263},{"t":2.5,"x":1200,"y":0.0248},{"t":2.5,"x":1255,"y":0.0238},{"t":2.5,"x":1355,"y":0.0222},{"t":2.5,"x":1395,"y":0.018},{"t":2.5,"x":1430,"y":0.0105},{"t":2.5,"x":1465,"y":0.0038},{"t":2.5,"x":1495,"y":0.0013},{"t":2.5,"x":1555,"y":0.0008},{"t":2.5,"x":1921,"y":0.0008},{"t":2.5,"x":1935,"y":0},
{"t":2,"x":1000,"y":0.026},{"t":2,"x":1207,"y":0.0238},{"t":2,"x":1307,"y":0.0222},{"t":2,"x":1347,"y":0.018},{"t":2,"x":1382,"y":0.0105},{"t":2,"x":1417,"y":0.0038},{"t":2,"x":1447,"y":0.0013},{"t":2,"x":1507,"y":0.0008},{"t":2,"x":1921,"y":0.0008},{"t":2,"x":1935,"y":0},
{"t":0.5,"x":1000,"y":0.08},{"t":0.5,"x":1028,"y":0.062},{"t":0.5,"x":1072,"y":0.031},{"t":0.5,"x":1124,"y":0.0254},{"t":0.5,"x":1180,"y":0.0245},{"t":0.5,"x":1255,"y":0.0225},{"t":0.5,"x":1295,"y":0.018},{"t":0.5,"x":1330,"y":0.0105},{"t":0.5,"x":1365,"y":0.0038},{"t":0.5,"x":1395,"y":0.0013},{"t":0.5,"x":1455,"y":0.0008},{"t":0.5,"x":1921,"y":0.0008},{"t":0.5,"x":1935,"y":0},
{"t":0,"x":1000,"y":0.08},{"t":0,"x":1137,"y":0.0615},{"t":0,"x":1181,"y":0.041},{"t":0,"x":1216,"y":0.0223},{"t":0,"x":1229,"y":0.0192},{"t":0,"x":1277,"y":0.01},{"t":0,"x":1325,"y":0.0023},{"t":0,"x":1381,"y":0.0008},{"t":0,"x":1921,"y":0.0008},{"t":0,"x":1935,"y":0}
]},
"mark":{"type":"line","clip":true,"strokeWidth":1.8,"strokeJoin":"round"},
"encoding":{"x":{"field":"x","type":"quantitative","scale":{"domain":[1000,2000],"nice":false,"zero":false},"axis":{"orient":"bottom","values":[1000,1100,1200,1300,1400,1500,1600,1700,1800,1900,2000],"labels":false,"title":null}},
"y":{"field":"y","type":"quantitative","scale":{"domain":[-0.0008,0.061],"nice":false,"zero":false},"axis":{"orient":"left","values":[0,0.01,0.02,0.03,0.04,0.05,0.06],"labels":false,"title":null}},
"color":{"field":"t","type":"quantitative","scale":{"domain":[0,10],"range":["#000000","#cccccc"]},"legend":null},
"detail":{"field":"t","type":"nominal"}}},
{"data":{"values":[{"x":1015,"y":0.0203},{"x":1965,"y":0.03}]},"mark":{"type":"line","clip":true,"color":"#000","strokeWidth":2.6,"strokeDash":[13,7]},"encoding":{"x":{"field":"x","type":"quantitative","scale":{"domain":[1000,2000],"nice":false,"zero":false},"axis":null},"y":{"field":"y","type":"quantitative","scale":{"domain":[-0.0008,0.061],"nice":false,"zero":false},"axis":null}}},
{"data":{"values":[{}]},"mark":{"type":"point","opacity":0},"encoding":{"x":{"datum":1500,"type":"quantitative","scale":{"domain":[1000,2000],"nice":false,"zero":false},"axis":{"orient":"top","values":[1000,1100,1200,1300,1400,1500,1600,1700,1800,1900,2000],"labels":false,"title":null}},"y":{"datum":0.03,"type":"quantitative","scale":{"domain":[-0.0008,0.061],"nice":false,"zero":false},"axis":{"orient":"right","values":[0,0.01,0.02,0.03,0.04,0.05,0.06],"labels":false,"title":null}}}},
{"data":{"values":[{}]},"mark":{"type":"text","align":"left","baseline":"middle","font":"DejaVu Sans","fontSize":20,"color":"#000"},"encoding":{"x":{"datum":840,"type":"quantitative","scale":{"domain":[1000,2000],"nice":false,"zero":false},"axis":null},"y":{"datum":0.057,"type":"quantitative","scale":{"domain":[-0.0008,0.061],"nice":false,"zero":false},"axis":null},"text":{"value":"(g)"}}},
{"data":{"values":[{}]},"mark":{"type":"text","align":"left","baseline":"alphabetic","font":"DejaVu Sans","fontSize":19,"color":"#000"},"encoding":{"x":{"datum":1412,"type":"quantitative","scale":{"domain":[1000,2000],"nice":false,"zero":false},"axis":null},"y":{"datum":0.05418,"type":"quantitative","scale":{"domain":[-0.0008,0.061],"nice":false,"zero":false},"axis":null},"text":{"value":"5·10"}}},
{"data":{"values":[{}]},"mark":{"type":"text","align":"left","baseline":"alphabetic","font":"DejaVu Sans","fontSize":13,"color":"#000"},"encoding":{"x":{"datum":1525,"type":"quantitative","scale":{"domain":[1000,2000],"nice":false,"zero":false},"axis":null},"y":{"datum":0.05691,"type":"quantitative","scale":{"domain":[-0.0008,0.061],"nice":false,"zero":false},"axis":null},"text":{"value":"-10"}}}
]},
{"width":382,"height":136,"resolve":{"axis":{"x":"independent","y":"independent"}},
"layer":[
{"data":{"values":[
{"t":10,"x":1000,"y":0.065},{"t":10,"x":1102,"y":0.0628},{"t":10,"x":1300,"y":0.0618},{"t":10,"x":1468,"y":0.0609},{"t":10,"x":1600,"y":0.0595},{"t":10,"x":1729,"y":0.0575},{"t":10,"x":1817,"y":0.0555},{"t":10,"x":1869,"y":0.0553},{"t":10,"x":1938,"y":0.0553},{"t":10,"x":1975,"y":0.0516},
{"t":9,"x":1000,"y":0.0625},{"t":9,"x":1300,"y":0.06},{"t":9,"x":1555,"y":0.057},{"t":9,"x":1700,"y":0.0545},{"t":9,"x":1773,"y":0.053},{"t":9,"x":1825,"y":0.049},{"t":9,"x":1869,"y":0.043},{"t":9,"x":1921,"y":0.0297},{"t":9,"x":1973,"y":0.0047},
{"t":8,"x":1000,"y":0.0547},{"t":8,"x":1200,"y":0.0528},{"t":8,"x":1468,"y":0.0516},{"t":8,"x":1600,"y":0.0498},{"t":8,"x":1686,"y":0.0484},{"t":8,"x":1773,"y":0.0453},{"t":8,"x":1825,"y":0.0375},{"t":8,"x":1869,"y":0.0266},{"t":8,"x":1904,"y":0.0172},{"t":8,"x":1939,"y":0},
{"t":6.5,"x":1000,"y":0.0445},{"t":6.5,"x":1294,"y":0.043},{"t":6.5,"x":1555,"y":0.0398},{"t":6.5,"x":1625,"y":0.0352},{"t":6.5,"x":1677,"y":0.0297},{"t":6.5,"x":1729,"y":0.0172},{"t":6.5,"x":1773,"y":0.0047},{"t":6.5,"x":1800,"y":0.0039},{"t":6.5,"x":1920,"y":0.006},{"t":6.5,"x":1940,"y":0},
{"t":5.5,"x":1000,"y":0.0395},{"t":5.5,"x":1300,"y":0.0378},{"t":5.5,"x":1470,"y":0.034},{"t":5.5,"x":1540,"y":0.029},{"t":5.5,"x":1600,"y":0.0185},{"t":5.5,"x":1640,"y":0.008},{"t":5.5,"x":1673,"y":0.0035},{"t":5.5,"x":1800,"y":0.0039},{"t":5.5,"x":1920,"y":0.006},{"t":5.5,"x":1940,"y":0},
{"t":4.5,"x":1000,"y":0.034},{"t":4.5,"x":1200,"y":0.0325},{"t":4.5,"x":1381,"y":0.0308},{"t":4.5,"x":1440,"y":0.0275},{"t":4.5,"x":1480,"y":0.02},{"t":4.5,"x":1510,"y":0.01},{"t":4.5,"x":1535,"y":0.0035},{"t":4.5,"x":1650,"y":0.0025},{"t":4.5,"x":1800,"y":0.0039},{"t":4.5,"x":1920,"y":0.006},{"t":4.5,"x":1940,"y":0},
{"t":3.5,"x":1000,"y":0.033},{"t":3.5,"x":1200,"y":0.031},{"t":3.5,"x":1300,"y":0.0285},{"t":3.5,"x":1350,"y":0.021},{"t":3.5,"x":1390,"y":0.011},{"t":3.5,"x":1425,"y":0.0035},{"t":3.5,"x":1550,"y":0.0016},{"t":3.5,"x":1650,"y":0.0025},{"t":3.5,"x":1800,"y":0.0039},{"t":3.5,"x":1920,"y":0.006},{"t":3.5,"x":1940,"y":0},
{"t":2.5,"x":1000,"y":0.0315},{"t":2.5,"x":1150,"y":0.0305},{"t":2.5,"x":1220,"y":0.0275},{"t":2.5,"x":1260,"y":0.02},{"t":2.5,"x":1295,"y":0.0105},{"t":2.5,"x":1324,"y":0.0045},{"t":2.5,"x":1420,"y":0.0022},{"t":2.5,"x":1550,"y":0.0016},{"t":2.5,"x":1650,"y":0.0025},{"t":2.5,"x":1800,"y":0.0039},{"t":2.5,"x":1920,"y":0.006},{"t":2.5,"x":1940,"y":0},
{"t":1.5,"x":1000,"y":0.0335},{"t":1.5,"x":1100,"y":0.0315},{"t":1.5,"x":1170,"y":0.027},{"t":1.5,"x":1210,"y":0.018},{"t":1.5,"x":1241,"y":0.009},{"t":1.5,"x":1280,"y":0.0055},{"t":1.5,"x":1330,"y":0.004},{"t":1.5,"x":1420,"y":0.0022},{"t":1.5,"x":1550,"y":0.0016},{"t":1.5,"x":1650,"y":0.0025},{"t":1.5,"x":1800,"y":0.0039},{"t":1.5,"x":1920,"y":0.006},{"t":1.5,"x":1940,"y":0},
{"t":0.8,"x":1000,"y":0.0325},{"t":0.8,"x":1050,"y":0.0315},{"t":0.8,"x":1090,"y":0.028},{"t":0.8,"x":1130,"y":0.02},{"t":0.8,"x":1172,"y":0.0095},{"t":0.8,"x":1220,"y":0.006},{"t":0.8,"x":1300,"y":0.0042},{"t":0.8,"x":1420,"y":0.0022},{"t":0.8,"x":1550,"y":0.0016},{"t":0.8,"x":1650,"y":0.0025},{"t":0.8,"x":1800,"y":0.0039},{"t":0.8,"x":1920,"y":0.006},{"t":0.8,"x":1940,"y":0},
{"t":0.3,"x":1000,"y":0.024},{"t":0.3,"x":1050,"y":0.0195},{"t":0.3,"x":1100,"y":0.0155},{"t":0.3,"x":1150,"y":0.012},{"t":0.3,"x":1200,"y":0.0085},{"t":0.3,"x":1300,"y":0.005},{"t":0.3,"x":1420,"y":0.0022},{"t":0.3,"x":1550,"y":0.0016},{"t":0.3,"x":1650,"y":0.0025},{"t":0.3,"x":1800,"y":0.0039},{"t":0.3,"x":1920,"y":0.006},{"t":0.3,"x":1940,"y":0},
{"t":0,"x":1000,"y":0.0047},{"t":0,"x":1050,"y":0.0045},{"t":0,"x":1076,"y":0.0055},{"t":0,"x":1130,"y":0.0102},{"t":0,"x":1200,"y":0.0085},{"t":0,"x":1250,"y":0.0055},{"t":0,"x":1350,"y":0.0035},{"t":0,"x":1420,"y":0.0022},{"t":0,"x":1550,"y":0.0016},{"t":0,"x":1650,"y":0.0025},{"t":0,"x":1800,"y":0.0039},{"t":0,"x":1920,"y":0.006},{"t":0,"x":1940,"y":0}
]},
"mark":{"type":"line","clip":true,"strokeWidth":1.8,"strokeJoin":"round"},
"encoding":{"x":{"field":"x","type":"quantitative","scale":{"domain":[1000,2000],"nice":false,"zero":false},"axis":{"orient":"bottom","values":[1000,1100,1200,1300,1400,1500,1600,1700,1800,1900,2000],"format":"d","labelExpr":"datum.value % 200 == 0 ? datum.label : ''","labelPadding":12,"title":null}},
"y":{"field":"y","type":"quantitative","scale":{"domain":[-0.0008,0.061],"nice":false,"zero":false},"axis":{"orient":"left","values":[0,0.01,0.02,0.03,0.04,0.05,0.06],"format":".2f","labelExpr":"round(datum.value*100) % 2 == 0 ? datum.label : ''","title":null}},
"color":{"field":"t","type":"quantitative","scale":{"domain":[0,10],"range":["#000000","#cccccc"]},"legend":null},
"detail":{"field":"t","type":"nominal"}}},
{"data":{"values":[{"x":1167,"y":0.0266},{"x":1947,"y":0.054}]},"mark":{"type":"line","clip":true,"color":"#000","strokeWidth":2.6,"strokeDash":[13,7]},"encoding":{"x":{"field":"x","type":"quantitative","scale":{"domain":[1000,2000],"nice":false,"zero":false},"axis":null},"y":{"field":"y","type":"quantitative","scale":{"domain":[-0.0008,0.061],"nice":false,"zero":false},"axis":null}}},
{"data":{"values":[{}]},"mark":{"type":"point","opacity":0},"encoding":{"x":{"datum":1500,"type":"quantitative","scale":{"domain":[1000,2000],"nice":false,"zero":false},"axis":{"orient":"top","values":[1000,1100,1200,1300,1400,1500,1600,1700,1800,1900,2000],"labels":false,"title":null}},"y":{"datum":0.03,"type":"quantitative","scale":{"domain":[-0.0008,0.061],"nice":false,"zero":false},"axis":{"orient":"right","values":[0,0.01,0.02,0.03,0.04,0.05,0.06],"labels":false,"title":null}}}},
{"data":{"values":[{}]},"mark":{"type":"text","align":"left","baseline":"middle","font":"DejaVu Sans","fontSize":20,"color":"#000"},"encoding":{"x":{"datum":702,"type":"quantitative","scale":{"domain":[1000,2000],"nice":false,"zero":false},"axis":null},"y":{"datum":0.07154,"type":"quantitative","scale":{"domain":[-0.0008,0.061],"nice":false,"zero":false},"axis":null},"text":{"value":"(d)"}}},
{"data":{"values":[{}]},"mark":{"type":"text","align":"left","baseline":"alphabetic","font":"DejaVu Sans","fontSize":19,"color":"#000"},"encoding":{"x":{"datum":1328.6,"type":"quantitative","scale":{"domain":[1000,2000],"nice":false,"zero":false},"axis":null},"y":{"datum":0.05055,"type":"quantitative","scale":{"domain":[-0.0008,0.061],"nice":false,"zero":false},"axis":null},"text":{"value":"5·10"}}},
{"data":{"values":[{}]},"mark":{"type":"text","align":"left","baseline":"alphabetic","font":"DejaVu Sans","fontSize":13,"color":"#000"},"encoding":{"x":{"datum":1441.8,"type":"quantitative","scale":{"domain":[1000,2000],"nice":false,"zero":false},"axis":null},"y":{"datum":0.0535,"type":"quantitative","scale":{"domain":[-0.0008,0.061],"nice":false,"zero":false},"axis":null},"text":{"value":"-9"}}}
]},
{"width":382,"height":136,"resolve":{"axis":{"x":"independent","y":"independent"}},
"layer":[
{"data":{"values":[
{"t":10,"x":1000,"y":0.065},{"t":10,"x":1207,"y":0.0615},{"t":10,"x":1400,"y":0.0595},{"t":10,"x":1643,"y":0.057},{"t":10,"x":1817,"y":0.0546},{"t":10,"x":1922,"y":0.0546},{"t":10,"x":1974,"y":0.05},
{"t":8.5,"x":1000,"y":0.0472},{"t":8.5,"x":1300,"y":0.0458},{"t":8.5,"x":1556,"y":0.0438},{"t":8.5,"x":1643,"y":0.0408},{"t":8.5,"x":1722,"y":0.0323},{"t":8.5,"x":1774,"y":0.0169},{"t":8.5,"x":1817,"y":0.0015},{"t":8.5,"x":1850,"y":0.001},{"t":8.5,"x":1920,"y":0.0006},{"t":8.5,"x":1940,"y":0},
{"t":6,"x":1000,"y":0.0446},{"t":6,"x":1300,"y":0.0415},{"t":6,"x":1525,"y":0.0383},{"t":6,"x":1575,"y":0.0353},{"t":6,"x":1625,"y":0.0278},{"t":6,"x":1675,"y":0.0163},{"t":6,"x":1725,"y":0.004},{"t":6,"x":1765,"y":0.0048},{"t":6,"x":1800,"y":0.0042},{"t":6,"x":1904,"y":0.0034},{"t":6,"x":1939,"y":0},
{"t":5,"x":1000,"y":0.0436},{"t":5,"x":1300,"y":0.0405},{"t":5,"x":1478,"y":0.0379},{"t":5,"x":1528,"y":0.0349},{"t":5,"x":1578,"y":0.0274},{"t":5,"x":1628,"y":0.0159},{"t":5,"x":1678,"y":0.004},{"t":5,"x":1720,"y":0.0058},{"t":5,"x":1800,"y":0.0042},{"t":5,"x":1904,"y":0.0034},{"t":5,"x":1939,"y":0},
{"t":4.5,"x":1000,"y":0.0424},{"t":4.5,"x":1250,"y":0.0398},{"t":4.5,"x":1421,"y":0.0374},{"t":4.5,"x":1471,"y":0.0344},{"t":4.5,"x":1521,"y":0.0269},{"t":4.5,"x":1571,"y":0.0154},{"t":4.5,"x":1621,"y":0.004},{"t":4.5,"x":1686,"y":0.0062},{"t":4.5,"x":1730,"y":0.0058},{"t":4.5,"x":1800,"y":0.0042},{"t":4.5,"x":1904,"y":0.0034},{"t":4.5,"x":1939,"y":0},
{"t":4,"x":1000,"y":0.0414},{"t":4,"x":1200,"y":0.039},{"t":4,"x":1373,"y":0.0369},{"t":4,"x":1423,"y":0.0339},{"t":4,"x":1473,"y":0.0264},{"t":4,"x":1523,"y":0.0149},{"t":4,"x":1573,"y":0.004},{"t":4,"x":1643,"y":0.0046},{"t":4,"x":1686,"y":0.0062},{"t":4,"x":1730,"y":0.0058},{"t":4,"x":1800,"y":0.0042},{"t":4,"x":1904,"y":0.0034},{"t":4,"x":1939,"y":0},
{"t":3.5,"x":1000,"y":0.0404},{"t":3.5,"x":1200,"y":0.038},{"t":3.5,"x":1321,"y":0.0365},{"t":3.5,"x":1371,"y":0.0335},{"t":3.5,"x":1421,"y":0.026},{"t":3.5,"x":1471,"y":0.0145},{"t":3.5,"x":1521,"y":0.0035},{"t":3.5,"x":1556,"y":0.003},{"t":3.5,"x":1643,"y":0.0046},{"t":3.5,"x":1686,"y":0.0062},{"t":3.5,"x":1730,"y":0.0058},{"t":3.5,"x":1800,"y":0.0042},{"t":3.5,"x":1904,"y":0.0034},{"t":3.5,"x":1939,"y":0},
{"t":3,"x":1000,"y":0.0394},{"t":3,"x":1150,"y":0.0375},{"t":3,"x":1268,"y":0.0362},{"t":3,"x":1318,"y":0.0332},{"t":3,"x":1368,"y":0.0257},{"t":3,"x":1418,"y":0.0142},{"t":3,"x":1468,"y":0.003},{"t":3,"x":1520,"y":0.002},{"t":3,"x":1556,"y":0.003},{"t":3,"x":1643,"y":0.0046},{"t":3,"x":1686,"y":0.0062},{"t":3,"x":1730,"y":0.0058},{"t":3,"x":1800,"y":0.0042},{"t":3,"x":1904,"y":0.0034},{"t":3,"x":1939,"y":0},
{"t":2.5,"x":1000,"y":0.0384},{"t":2.5,"x":1220,"y":0.0358},{"t":2.5,"x":1270,"y":0.0328},{"t":2.5,"x":1320,"y":0.0253},{"t":2.5,"x":1370,"y":0.0138},{"t":2.5,"x":1420,"y":0.003},{"t":2.5,"x":1468,"y":0.0016},{"t":2.5,"x":1556,"y":0.003},{"t":2.5,"x":1643,"y":0.0046},{"t":2.5,"x":1686,"y":0.0062},{"t":2.5,"x":1730,"y":0.0058},{"t":2.5,"x":1800,"y":0.0042},{"t":2.5,"x":1904,"y":0.0034},{"t":2.5,"x":1939,"y":0},
{"t":2,"x":1000,"y":0.0374},{"t":2,"x":1172,"y":0.0353},{"t":2,"x":1222,"y":0.0323},{"t":2,"x":1272,"y":0.0248},{"t":2,"x":1322,"y":0.0133},{"t":2,"x":1372,"y":0.0028},{"t":2,"x":1420,"y":0.0015},{"t":2,"x":1556,"y":0.003},{"t":2,"x":1643,"y":0.0046},{"t":2,"x":1686,"y":0.0062},{"t":2,"x":1730,"y":0.0058},{"t":2,"x":1800,"y":0.0042},{"t":2,"x":1904,"y":0.0034},{"t":2,"x":1939,"y":0},
{"t":1.5,"x":1000,"y":0.0364},{"t":1.5,"x":1125,"y":0.0349},{"t":1.5,"x":1175,"y":0.0319},{"t":1.5,"x":1225,"y":0.0244},{"t":1.5,"x":1275,"y":0.0129},{"t":1.5,"x":1325,"y":0.0028},{"t":1.5,"x":1381,"y":0.0015},{"t":1.5,"x":1468,"y":0.0015},{"t":1.5,"x":1556,"y":0.003},{"t":1.5,"x":1643,"y":0.0046},{"t":1.5,"x":1686,"y":0.0062},{"t":1.5,"x":1730,"y":0.0058},{"t":1.5,"x":1800,"y":0.0042},{"t":1.5,"x":1904,"y":0.0034},{"t":1.5,"x":1939,"y":0},
{"t":1,"x":1000,"y":0.0354},{"t":1,"x":1072,"y":0.0345},{"t":1,"x":1122,"y":0.0315},{"t":1,"x":1172,"y":0.024},{"t":1,"x":1222,"y":0.0125},{"t":1,"x":1272,"y":0.004},{"t":1,"x":1310,"y":0.0022},{"t":1,"x":1381,"y":0.0015},{"t":1,"x":1468,"y":0.0015},{"t":1,"x":1556,"y":0.003},{"t":1,"x":1643,"y":0.0046},{"t":1,"x":1686,"y":0.0062},{"t":1,"x":1730,"y":0.0058},{"t":1,"x":1800,"y":0.0042},{"t":1,"x":1904,"y":0.0034},{"t":1,"x":1939,"y":0},
{"t":0,"x":1000,"y":0.047},{"t":0,"x":1072,"y":0.0092},{"t":0,"x":1124,"y":0.0095},{"t":0,"x":1172,"y":0.0085},{"t":0,"x":1224,"y":0.0046},{"t":0,"x":1294,"y":0.0023},{"t":0,"x":1381,"y":0.0015},{"t":0,"x":1468,"y":0.0015},{"t":0,"x":1556,"y":0.003},{"t":0,"x":1643,"y":0.0046},{"t":0,"x":1686,"y":0.0062},{"t":0,"x":1730,"y":0.0058},{"t":0,"x":1817,"y":0.0038},{"t":0,"x":1904,"y":0.0034},{"t":0,"x":1939,"y":0}
]},
"mark":{"type":"line","clip":true,"strokeWidth":1.8,"strokeJoin":"round"},
"encoding":{"x":{"field":"x","type":"quantitative","scale":{"domain":[1000,2000],"nice":false,"zero":false},"axis":{"orient":"bottom","values":[1000,1100,1200,1300,1400,1500,1600,1700,1800,1900,2000],"format":"d","labelExpr":"datum.value % 200 == 0 ? datum.label : ''","labelPadding":12,"title":null}},
"y":{"field":"y","type":"quantitative","scale":{"domain":[-0.0008,0.061],"nice":false,"zero":false},"axis":{"orient":"left","values":[0,0.01,0.02,0.03,0.04,0.05,0.06],"labels":false,"title":null}},
"color":{"field":"t","type":"quantitative","scale":{"domain":[0,10],"range":["#000000","#cccccc"]},"legend":null},
"detail":{"field":"t","type":"nominal"}}},
{"data":{"values":[{"x":1000,"y":0.0351},{"x":1939,"y":0.0446}]},"mark":{"type":"line","clip":true,"color":"#000","strokeWidth":2.6,"strokeDash":[13,7]},"encoding":{"x":{"field":"x","type":"quantitative","scale":{"domain":[1000,2000],"nice":false,"zero":false},"axis":null},"y":{"field":"y","type":"quantitative","scale":{"domain":[-0.0008,0.061],"nice":false,"zero":false},"axis":null}}},
{"data":{"values":[{}]},"mark":{"type":"point","opacity":0},"encoding":{"x":{"datum":1500,"type":"quantitative","scale":{"domain":[1000,2000],"nice":false,"zero":false},"axis":{"orient":"top","values":[1000,1100,1200,1300,1400,1500,1600,1700,1800,1900,2000],"labels":false,"title":null}},"y":{"datum":0.03,"type":"quantitative","scale":{"domain":[-0.0008,0.061],"nice":false,"zero":false},"axis":{"orient":"right","values":[0,0.01,0.02,0.03,0.04,0.05,0.06],"labels":false,"title":null}}}},
{"data":{"values":[{}]},"mark":{"type":"text","align":"left","baseline":"middle","font":"DejaVu Sans","fontSize":20,"color":"#000"},"encoding":{"x":{"datum":840,"type":"quantitative","scale":{"domain":[1000,2000],"nice":false,"zero":false},"axis":null},"y":{"datum":0.07154,"type":"quantitative","scale":{"domain":[-0.0008,0.061],"nice":false,"zero":false},"axis":null},"text":{"value":"(h)"}}},
{"data":{"values":[{}]},"mark":{"type":"text","align":"left","baseline":"alphabetic","font":"DejaVu Sans","fontSize":19,"color":"#000"},"encoding":{"x":{"datum":1412,"type":"quantitative","scale":{"domain":[1000,2000],"nice":false,"zero":false},"axis":null},"y":{"datum":0.05082,"type":"quantitative","scale":{"domain":[-0.0008,0.061],"nice":false,"zero":false},"axis":null},"text":{"value":"5·10"}}},
{"data":{"values":[{}]},"mark":{"type":"text","align":"left","baseline":"alphabetic","font":"DejaVu Sans","fontSize":13,"color":"#000"},"encoding":{"x":{"datum":1525,"type":"quantitative","scale":{"domain":[1000,2000],"nice":false,"zero":false},"axis":null},"y":{"datum":0.0535,"type":"quantitative","scale":{"domain":[-0.0008,0.061],"nice":false,"zero":false},"axis":null},"text":{"value":"-9"}}},
{"data":{"values":[{}]},"mark":{"type":"text","align":"center","baseline":"middle","font":"Open Sans","fontSize":25,"color":"#000"},"encoding":{"x":{"datum":998.7,"type":"quantitative","scale":{"domain":[1000,2000],"nice":false,"zero":false},"axis":null},"y":{"datum":-0.0255,"type":"quantitative","scale":{"domain":[-0.0008,0.061],"nice":false,"zero":false},"axis":null},"text":{"value":"Position (nm)"}}}
]}
]
}
